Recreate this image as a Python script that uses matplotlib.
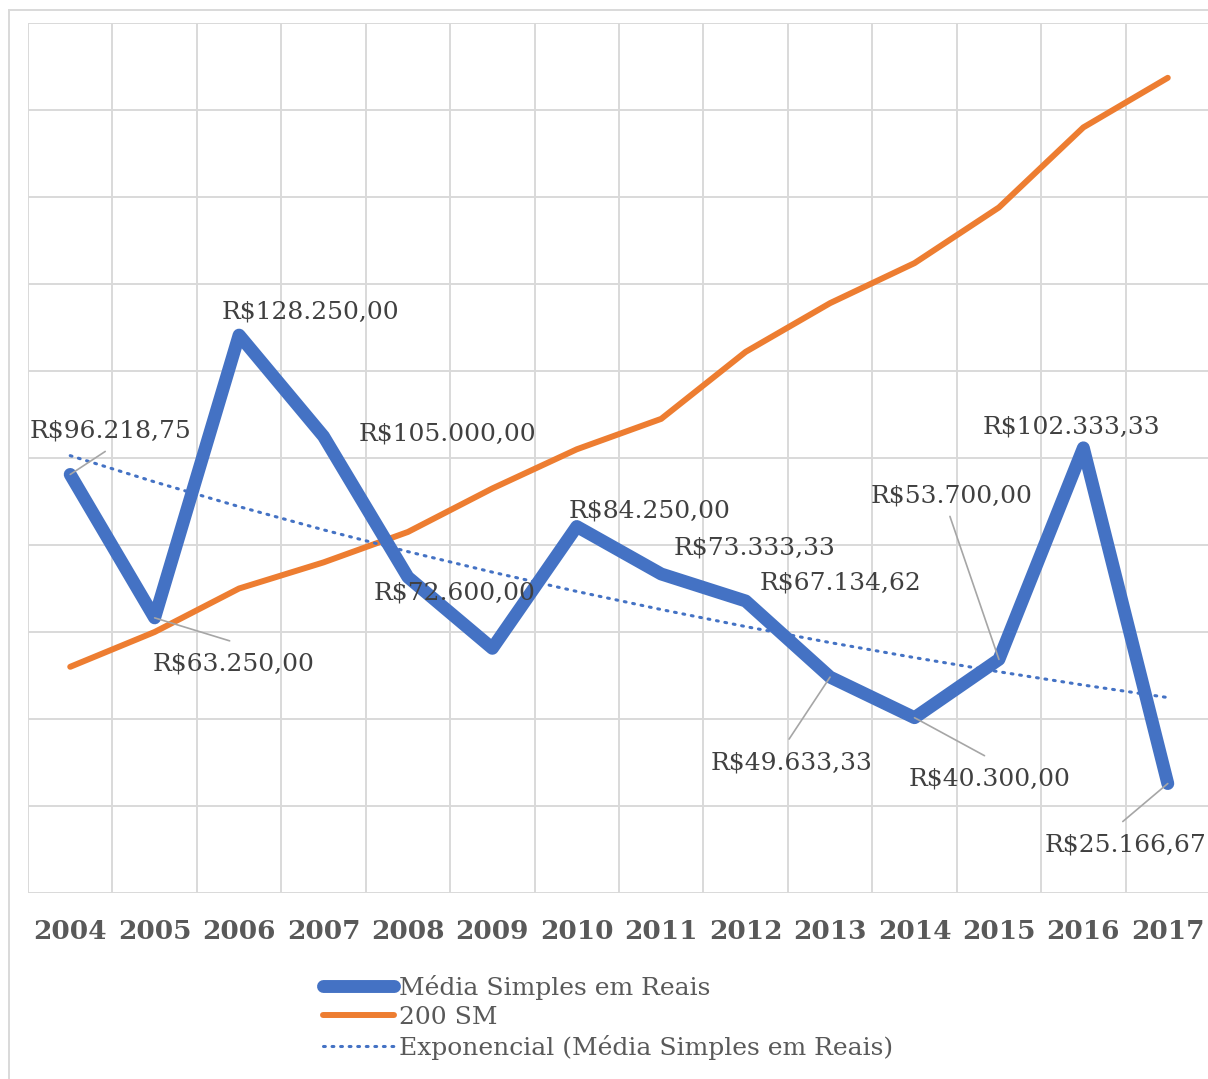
import numpy as np
import matplotlib
matplotlib.use("Agg")
import matplotlib.pyplot as plt
from matplotlib.lines import Line2D

# ---- data ----
years = ["2004", "2005", "2006", "2007", "2008", "2009", "2010",
         "2011", "2012", "2013", "2014", "2015", "2016", "2017"]
media_simples = [96218.75, 63250.00, 128250.00, 105000.00, 72600.00, 56250.00, 84250.00,
                 73333.33, 67134.62, 49633.33, 40300.00, 53700.00, 102333.33, 25166.67]
sm_200 = [52000, 60000, 70000, 76000, 83000, 93000, 102000,
          109000, 124400, 135600, 144800, 157600, 176000, 187400]
data_labels = ["R$96.218,75", "R$63.250,00", "R$128.250,00", "R$105.000,00", "R$72.600,00",
               None, "R$84.250,00", "R$73.333,33", "R$67.134,62", "R$49.633,33",
               "R$40.300,00", "R$53.700,00", "R$102.333,33", "R$25.166,67"]
legend_labels = ["Média Simples em Reais", "200 SM", "Exponencial (Média Simples em Reais)"]

# ---- layout / style (not data) ----
label_offsets = [(40, 43), (79, -46), (71, 23), (124, 2), (47, -16), None, (73, 16),
                 (93, 26), (95, 18), (-39, -86), (75, -61), (-47, 163), (-12, 21), (-42, -61)]
leader_ends = {0: (35, 23), 1: (75, -23), 9: (-41, -62), 10: (70, -38), 11: (-49, 143), 13: (-45, -38)}

BLUE = "#4472C4"
ORANGE = "#ED7D31"
GRID = "#D9D9D9"
TXT = "#404040"
TICK = "#595959"
SERIF = ["DejaVu Serif"]

W, H = 1208, 1079
fig = plt.figure(figsize=(W / 100, H / 100), dpi=100)
fig.patch.set_facecolor("white")

# outer chart border
fig.add_artist(Line2D([9 / W, 1.0], [1 - 10 / H, 1 - 10 / H], transform=fig.transFigure,
                      color=GRID, lw=1.4))
fig.add_artist(Line2D([9 / W, 9 / W], [1 - 10 / H, 0], transform=fig.transFigure,
                      color=GRID, lw=1.4))

left, right, top, bottom = 28, 1210, 23, 893
ax = fig.add_axes([left / W, 1 - bottom / H, (right - left) / W, (bottom - top) / H])
x = np.arange(len(years))

ax.set_xlim(-0.5, len(years) - 0.5)
ax.set_ylim(0, 200000)
ax.set_yticks(np.arange(0, 200001, 20000))
ax.set_yticklabels([])
ax.set_xticks(x)
ax.set_xticklabels(years, fontsize=19, fontweight="bold", color=TICK, family=SERIF)
ax.set_xticks(np.arange(-0.5, len(years), 1), minor=True)
ax.tick_params(axis="both", which="both", length=0)
ax.tick_params(axis="x", pad=19)
ax.grid(axis="y", which="major", color=GRID, lw=1.4)
ax.grid(axis="x", which="minor", color=GRID, lw=1.4)
for s in ax.spines.values():
    s.set_visible(False)
ax.set_axisbelow(True)

# exponential trendline fitted to the series
xs = x + 1
b, a = np.polyfit(xs, np.log(media_simples), 1)
trend = np.exp(a + b * xs)

l_trend, = ax.plot(x, trend, color=BLUE, lw=2.2, ls=(0, (0.6, 2.2)),
                   dash_capstyle="round", zorder=3)
l_sm, = ax.plot(x, sm_200, color=ORANGE, lw=4.3, solid_capstyle="round",
                solid_joinstyle="round", zorder=2)
l_media, = ax.plot(x, media_simples, color=BLUE, lw=9.3, solid_capstyle="round",
                   solid_joinstyle="round", zorder=4)

# leader lines and data labels
for i, (lab, off) in enumerate(zip(data_labels, label_offsets)):
    if lab is None:
        continue
    if i in leader_ends:
        ax.annotate("", xy=(x[i], media_simples[i]), xytext=leader_ends[i],
                    textcoords="offset pixels",
                    arrowprops=dict(arrowstyle="-", color="#A6A6A6", lw=1.2,
                                    shrinkA=0, shrinkB=0), zorder=5)
    ax.annotate(lab, xy=(x[i], media_simples[i]), xytext=off, textcoords="offset pixels",
                ha="center", va="center", fontsize=18, color=TXT, family=SERIF,
                zorder=6, annotation_clip=False)

# legend
leg = fig.legend([l_media, l_sm, l_trend], legend_labels, loc="upper left",
                 bbox_to_anchor=(323 / W, 1 - 975 / H), frameon=False,
                 prop=dict(family=SERIF, size=18), handlelength=2.85,
                 handletextpad=0.2, labelspacing=0.24, borderpad=0, borderaxespad=0)
for t in leg.get_texts():
    t.set_color(TICK)

fig.savefig("out.png", dpi=100, facecolor="white")
